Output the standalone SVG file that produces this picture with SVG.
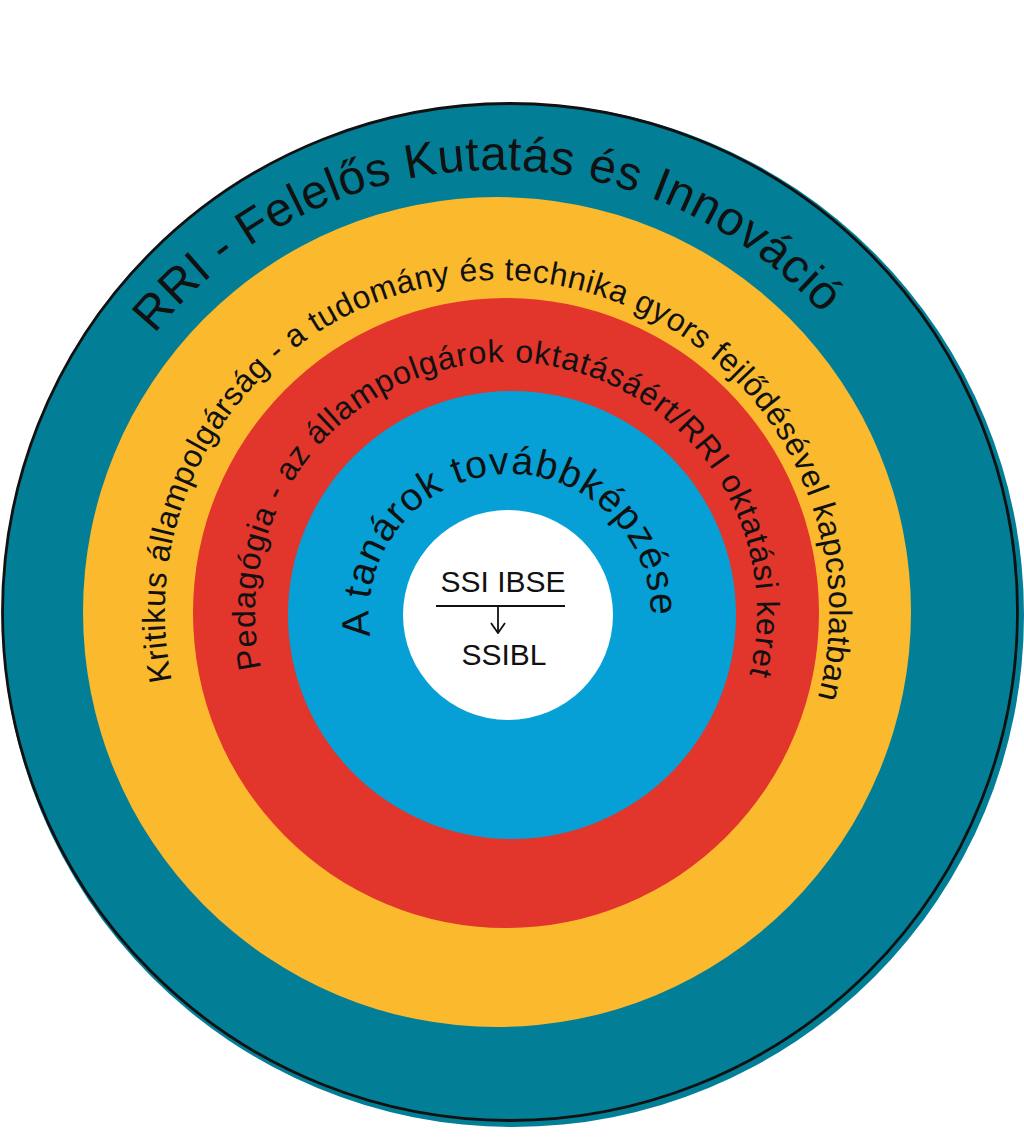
<svg xmlns="http://www.w3.org/2000/svg" width="1024" height="1140" viewBox="0 0 1024 1140">
  <style>
    .lbl { font-family: "Liberation Sans", Arial, sans-serif; fill: #111; }
  </style>
  <defs>
    <path id="pTeal" d="M497,1048 A439,439 0 1,1 497,170 A439,439 0 1,1 497,1048"/>
    <path id="pYellow" d="M497,944 A332,332 0 1,1 497,280 A332,332 0 1,1 497,944"/>
    <path id="pRed" d="M506,864 A251,251 0 1,1 506,362 A251,251 0 1,1 506,864"/>
    <path id="pBlue" d="M510,756 A141,141 0 1,1 510,474 A141,141 0 1,1 510,756"/>
    <marker id="chev" viewBox="0 0 12 16" refX="11" refY="8" markerWidth="12" markerHeight="16" markerUnits="userSpaceOnUse" orient="auto">
      <path d="M1,1 L11,8 L1,15" fill="none" stroke="#111" stroke-width="1.8"/>
    </marker>
  </defs>
  <rect width="1024" height="1140" fill="#ffffff"/>

  <g id="ring-rri">
    <ellipse cx="513" cy="615" rx="511" ry="512" fill="#027f97"/>
    <ellipse cx="510" cy="612" rx="507.5" ry="508.5" fill="none" stroke="#111" stroke-width="2.8"/>
  </g>
  <g id="ring-kritikus">
    <ellipse cx="497" cy="612" rx="414" ry="415" fill="#fbb92e"/>
  </g>
  <g id="ring-pedagogia">
    <ellipse cx="506" cy="613" rx="313" ry="315" fill="#e2352c"/>
  </g>
  <g id="ring-tanarok">
    <ellipse cx="512" cy="615" rx="224" ry="224" fill="#06a0d6"/>
  </g>
  <g id="core">
    <circle cx="508" cy="615" r="105" fill="#ffffff"/>
    <text class="lbl" x="503" y="592" font-size="30" text-anchor="middle">SSI IBSE</text>
    <text class="lbl" x="504" y="665" font-size="30" text-anchor="middle">SSIBL</text>
  </g>

  <g id="label-rri">
    <text class="lbl" font-size="48" letter-spacing="0.6"><textPath href="#pTeal" startOffset="1366" text-anchor="middle">RRI - Felelős Kutatás és Innováció</textPath></text>
  </g>
  <g id="label-kritikus">
    <text class="lbl" font-size="32" letter-spacing="0.5"><textPath href="#pYellow" startOffset="1052" text-anchor="middle">Kritikus állampolgárság - a tudomány és technika gyors fejlődésével kapcsolatban</textPath></text>
  </g>
  <g id="label-pedagogia">
    <text class="lbl" font-size="32" letter-spacing="0.9"><textPath href="#pRed" startOffset="792" text-anchor="middle">Pedagógia - az állampolgárok oktatásáért/RRI oktatási keret</textPath></text>
  </g>
  <g id="label-tanarok">
    <text class="lbl" font-size="39" letter-spacing="1.2"><textPath href="#pBlue" startOffset="433" text-anchor="middle">A tanárok továbbképzése</textPath></text>
  </g>

  <g id="connectors">
    <line x1="436" y1="606" x2="565" y2="606" stroke="#111" stroke-width="2"/>
    <line x1="498" y1="606" x2="498" y2="633" stroke="#111" stroke-width="1.8" marker-end="url(#chev)"/>
  </g>
</svg>
